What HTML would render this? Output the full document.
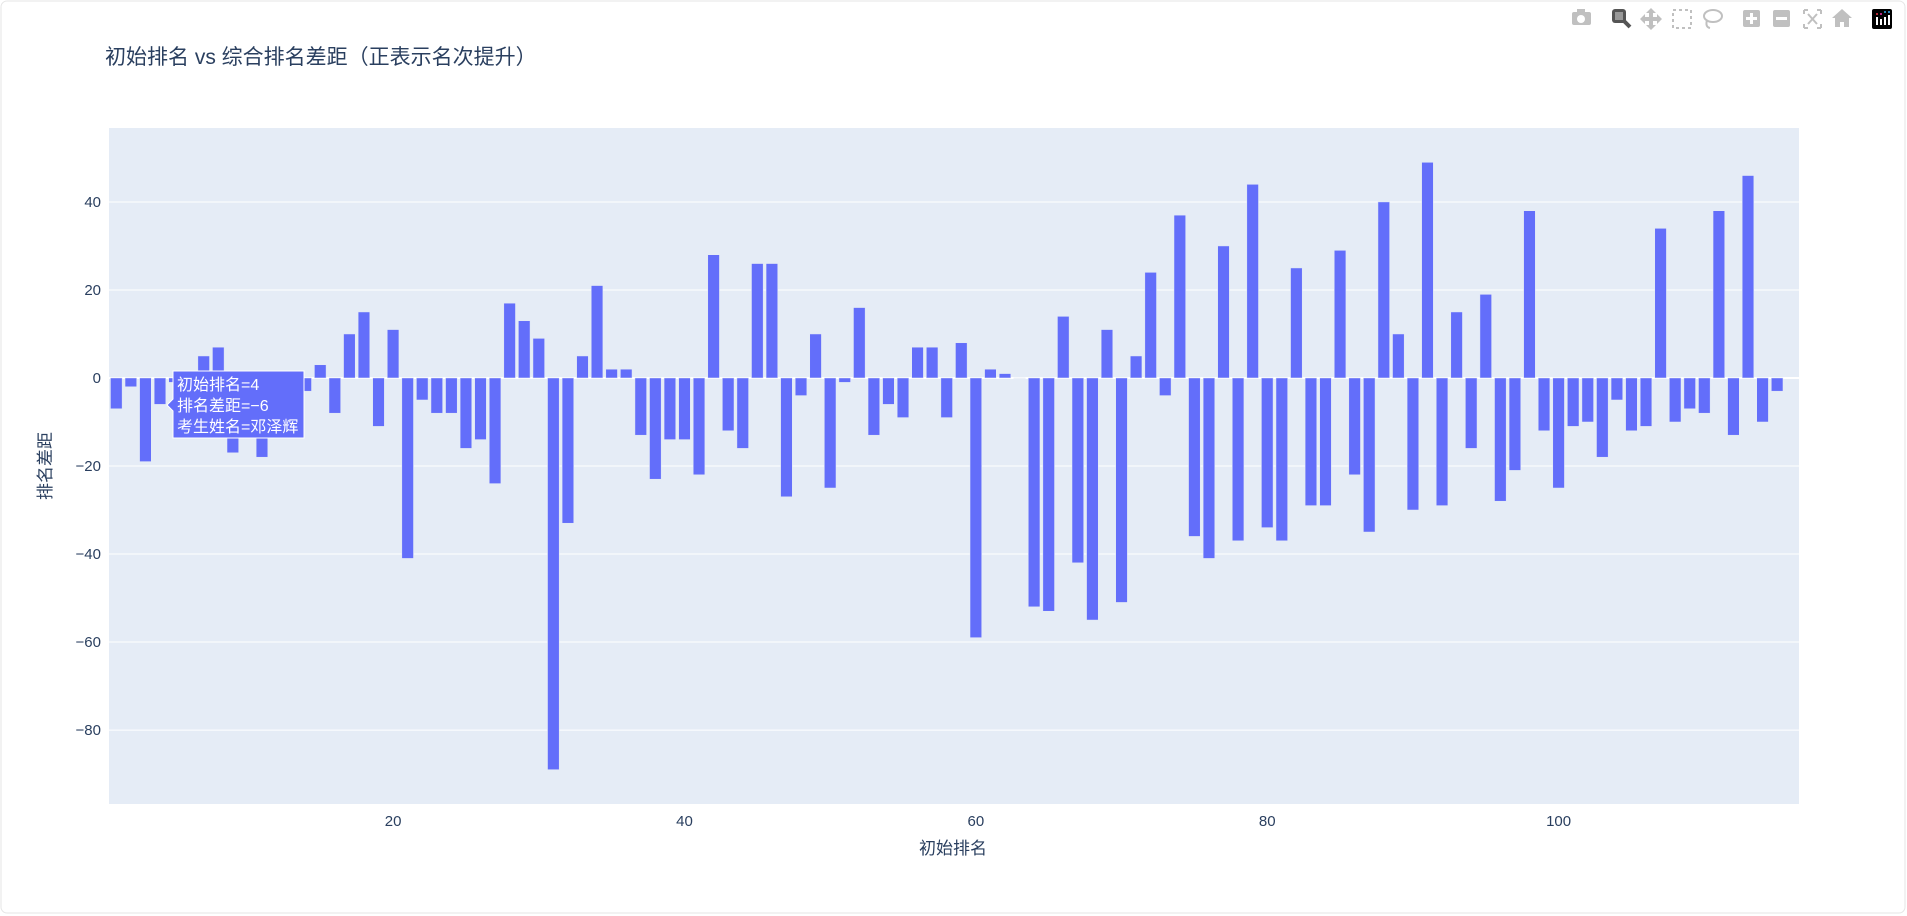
<!DOCTYPE html>
<html><head><meta charset="utf-8">
<style>
html,body{margin:0;padding:0;background:#fff;width:1907px;height:916px;overflow:hidden;}
svg{display:block;font-family:"Liberation Sans","Noto Sans CJK SC",sans-serif;}
</style></head>
<body>
<svg id="chart" width="1907" height="916" viewBox="0 0 1907 916">
  <rect x="0" y="0" width="1907" height="916" fill="#fff"/>
  <rect x="1" y="1" width="1904" height="912" rx="6" fill="none" stroke="#e6e6e6"/>
  <rect id="plotbg" fill="#e5ecf6"/>
  <g id="grid"></g>
  <g id="bars"></g>
  <g id="yticks"></g>
  <g id="xticks"></g>
  <text x="105" y="64" font-size="21" fill="#2a3f5f">初始排名 vs 综合排名差距（正表示名次提升）</text>
  <text x="953" y="854" font-size="17" fill="#2a3f5f" text-anchor="middle">初始排名</text>
  <text x="0" y="0" font-size="17" fill="#2a3f5f" text-anchor="middle" transform="translate(51,466) rotate(-90)">排名差距</text>
  <g id="tooltip">
    <path d="M173,371 H304 V438 H173 V411 L167,405 L173,399 Z" fill="#636efa" stroke="#fff" stroke-width="1"/>
    <text x="177" y="390" font-size="16" fill="#fff">初始排名=4</text>
    <text x="177" y="411" font-size="16" fill="#fff">排名差距=−6</text>
    <text x="177" y="432" font-size="16" fill="#fff">考生姓名=邓泽辉</text>
  </g>
  <g id="modebar" fill="#c0c0c0">
    <g><rect x="1572" y="12" width="19" height="13" rx="2"/><rect x="1577" y="9" width="8" height="4"/><circle cx="1581" cy="19" r="4" fill="#fff"/></g>
    <g fill="#555"><rect x="1612" y="9" width="14" height="14" rx="3"/><rect x="1615" y="12" width="8" height="8" fill="#999"/><path d="M1624,21 L1630,27" stroke="#555" stroke-width="4"/></g>
    <g><path d="M1651,8 L1656,13 H1653 V17 H1657 V14 L1662,19 L1657,24 V21 H1653 V25 H1656 L1651,30 L1646,25 H1649 V21 H1645 V24 L1640,19 L1645,14 V17 H1649 V13 H1646 Z"/></g>
    <g><rect x="1673" y="10" width="18" height="18" fill="none" stroke="#c0c0c0" stroke-width="2" stroke-dasharray="3,3"/></g>
    <g><ellipse cx="1713" cy="16" rx="9" ry="6" fill="none" stroke="#c0c0c0" stroke-width="2"/><path d="M1707,20 Q1705,27 1710,28" fill="none" stroke="#c0c0c0" stroke-width="2"/></g>
    <g><rect x="1743" y="10" width="17" height="17" rx="2"/><path d="M1751.5,13 V24 M1746,18.5 H1757" stroke="#fff" stroke-width="3"/></g>
    <g><rect x="1773" y="10" width="17" height="17" rx="2"/><path d="M1776,18.5 H1787" stroke="#fff" stroke-width="3"/></g>
    <g><path d="M1804,10 H1808 M1804,10 V14 M1821,10 H1817 M1821,10 V14 M1804,28 H1808 M1804,28 V24 M1821,28 H1817 M1821,28 V24 M1808,14 L1817,24 M1817,14 L1808,24" stroke="#c0c0c0" stroke-width="2" fill="none"/></g>
    <g><path d="M1842,9 L1852,18 H1849 V27 H1844 V22 H1840 V27 H1835 V18 H1832 Z"/></g>
    <g><rect x="1872" y="9" width="20" height="20" rx="2" fill="#000"/><rect x="1876" y="17" width="2" height="8" fill="#fff"/><rect x="1880" y="19" width="2" height="6" fill="#fff"/><rect x="1884" y="17" width="2" height="8" fill="#fff"/><rect x="1888" y="15" width="2" height="10" fill="#fff"/><circle cx="1877" cy="14" r="1" fill="#e34"/><circle cx="1881" cy="14" r="1" fill="#e3a"/><circle cx="1885" cy="12" r="1" fill="#3ae"/><circle cx="1889" cy="12" r="1" fill="#3ae"/></g>
  </g>
</svg>
<script>
const ranks = [];
for (let i = 1; i <= 115; i++) ranks.push(i);
const diffs = [-7,-2,-19,-6,-1,-3,5,7,-17,-10,-18,-5,-2,-3,3,-8,10,15,-11,11,
-41,-5,-8,-8,-16,-14,-24,17,13,9,-89,-33,5,21,2,2,-13,-23,-14,-14,
-22,28,-12,-16,26,26,-27,-4,10,-25,-1,16,-13,-6,-9,7,7,-9,8,-59,
2,1,0,-52,-53,14,-42,-55,11,-51,5,24,-4,37,-36,-41,30,-37,44,-34,
-37,25,-29,-29,29,-22,-35,40,10,-30,49,-29,15,-16,19,-28,-21,38,-12,-25,
-11,-10,-18,-5,-12,-11,34,-10,-7,-8,38,-13,46,-10,-3];
const yTickVals = [-80,-60,-40,-20,0,20,40];
const yTickLabels = ["−80","−60","−40","−20","0","20","40"];
const xTickVals = [20,40,60,80,100];
const xTickLabels = ["20","40","60","80","100"];

const L=109, R=1799, T=128, B=804;
const xMin=0.5, xMax=116.5, yMin=-96.8, yMax=56.8;
const xs = v => L + (v - xMin) / (xMax - xMin) * (R - L);
const ys = v => B - (v - yMin) / (yMax - yMin) * (B - T);
const NS = "http://www.w3.org/2000/svg";
function mk(tag, attrs, parent){ const e=document.createElementNS(NS,tag); for(const k in attrs) e.setAttribute(k,attrs[k]); parent.appendChild(e); return e; }

const bg=document.getElementById('plotbg');
bg.setAttribute('x',L); bg.setAttribute('y',T); bg.setAttribute('width',R-L); bg.setAttribute('height',B-T);

const grid=document.getElementById('grid'), yt=document.getElementById('yticks'), xt=document.getElementById('xticks');
yTickVals.forEach((v,i)=>{
  const g=mk('line',{x1:L,x2:R,y1:ys(v),y2:ys(v),stroke:'#fff','stroke-width':v===0?2:1},grid);
  
  
  const t=mk('text',{x:L-8,y:ys(v)+5,'font-size':15,fill:'#2a3f5f','text-anchor':'end'},yt);
  t.textContent=yTickLabels[i];
  
  
});
xTickVals.forEach((v,i)=>{
  const t=mk('text',{x:xs(v),y:B+22,'font-size':15,fill:'#2a3f5f','text-anchor':'middle'},xt);
  t.textContent=xTickLabels[i];
  
  
});
const bars=document.getElementById('bars');
const bw=(xs(2)-xs(1))*0.8;
ranks.forEach((r,i)=>{
  const v=diffs[i];
  const y0=ys(0), y1=ys(v);
  const b=mk('rect',{x:xs(r)-bw/2,y:Math.min(y0,y1),width:bw,height:Math.max(Math.abs(y1-y0),0.5),fill:'#636efa',stroke:'#e5ecf6','stroke-width':0.5},bars);
  
  
});
</script>
</body></html>
